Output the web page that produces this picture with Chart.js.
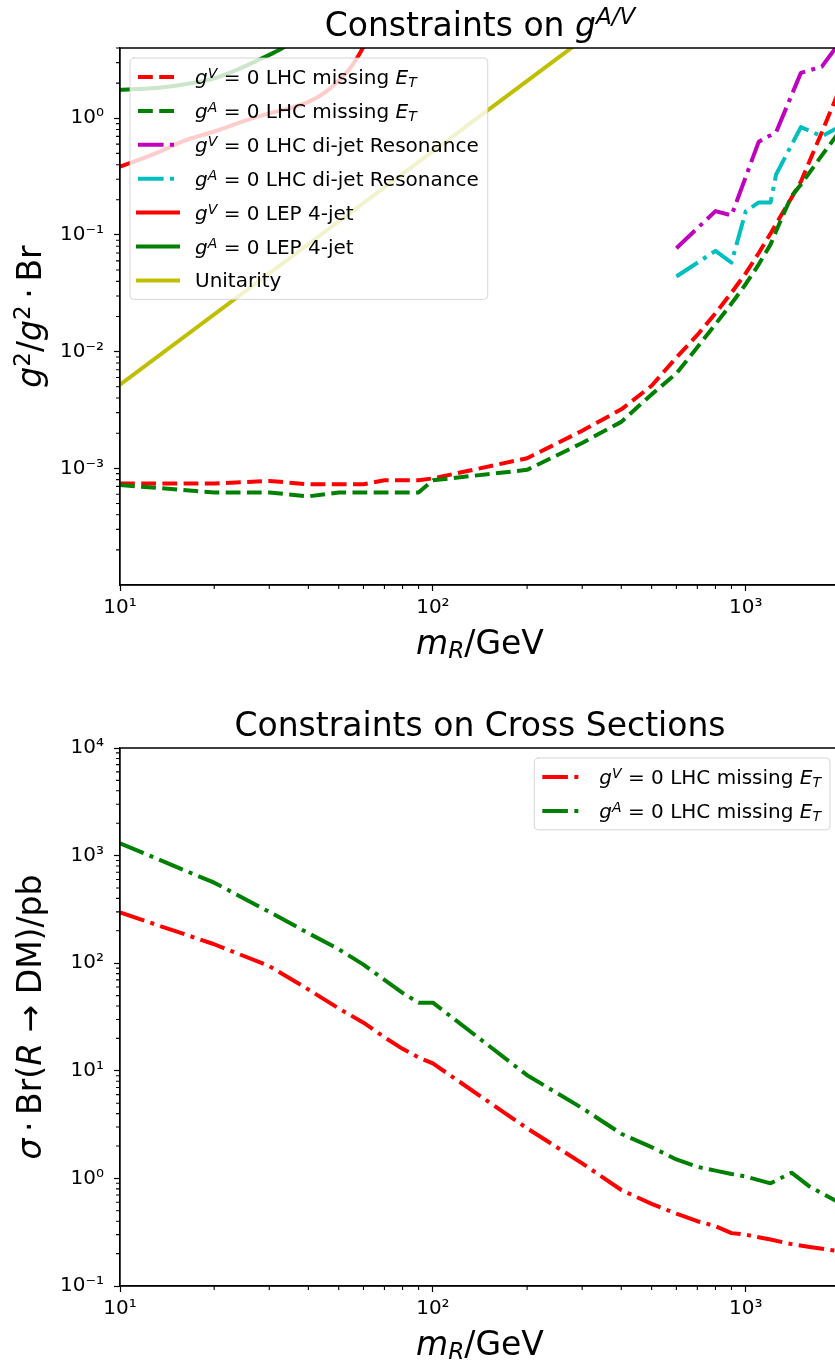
<!DOCTYPE html>
<html><head><meta charset="utf-8">
<script src="https://cdn.jsdelivr.net/npm/chart.js@4.4.0/dist/chart.umd.min.js"></script>
<style>
html,body{margin:0;padding:0;background:#fff;overflow:hidden;width:835px;height:1363px;}
#c1{position:absolute;left:0;top:0;}
#c2{position:absolute;left:0;top:680px;}
</style></head><body>
<canvas id="c1" width="850" height="680"></canvas>
<canvas id="c2" width="850" height="683"></canvas>
<script>
// ---------- axis ticks ----------
const xTickVals = [10, 100, 1000];
const xTickLabels = ['10\u00B9', '10\u00B2', '10\u00B3'];
const yTickValsTop = [1e-3, 1e-2, 1e-1, 1];
const yTickLabelsTop = ['10\u207B\u00B3', '10\u207B\u00B2', '10\u207B\u00B9', '10\u2070'];
const yTickValsBot = [1e-1, 1, 10, 100, 1000, 10000];
const yTickLabelsBot = ['10\u207B\u00B9', '10\u2070', '10\u00B9', '10\u00B2', '10\u00B3', '10\u2074'];
const xMinor = [20,30,40,50,60,70,80,90,200,300,400,500,600,700,800,900,2000];
const yMinorTop = [2e-4,3e-4,4e-4,5e-4,6e-4,7e-4,8e-4,9e-4,2e-3,3e-3,4e-3,5e-3,6e-3,7e-3,8e-3,9e-3,
  0.02,0.03,0.04,0.05,0.06,0.07,0.08,0.09,0.2,0.3,0.4,0.5,0.6,0.7,0.8,0.9,2,3,4];
const yMinorBot = [0.2,0.3,0.4,0.5,0.6,0.7,0.8,0.9,2,3,4,5,6,7,8,9,20,30,40,50,60,70,80,90,
  200,300,400,500,600,700,800,900,2000,3000,4000,5000,6000,7000,8000,9000];

// ---------- top panel data: g^2/g^2 * Br ----------
const massLHC = [10,20,30,40,50,60,70,80,90,100,200,300,400,500,600,700,800,900,1000,1100,1200,1300,1400,1500,1750,2000];
const gV_LHC = [7.4e-4,7.4e-4,7.8e-4,7.3e-4,7.3e-4,7.3e-4,7.9e-4,7.9e-4,7.9e-4,8.2e-4,1.22e-3,2.1e-3,3.2e-3,5.1e-3,8.9e-3,0.0139,0.0213,0.032,0.047,0.07,0.103,0.149,0.208,0.287,0.76,1.8];
const gA_LHC = [7.2e-4,6.2e-4,6.2e-4,5.75e-4,6.2e-4,6.2e-4,6.2e-4,6.2e-4,6.2e-4,7.9e-4,9.7e-4,1.65e-3,2.5e-3,4.3e-3,6.5e-3,0.0109,0.0172,0.0258,0.038,0.056,0.083,0.138,0.215,0.27,0.48,0.78];
const massDijetV = [600,800,900,1100,1250,1500,1750,2000];
const gV_dijet = [0.077,0.16,0.147,0.63,0.76,2.45,2.77,4.5];
const massDijetA = [600,800,900,1000,1100,1200,1250,1500,1750,2000];
const gA_dijet = [0.044,0.073,0.058,0.16,0.19,0.19,0.33,0.84,0.70,0.85];
const massLEP_V = [10,13,16,20,25,30,35,40,45,50,55,60,63];
const gV_LEP = [0.385,0.50,0.64,0.77,0.95,1.10,1.22,1.38,1.65,2.1,2.8,4.1,5.5];
const massLEP_A = [10,13,16,20,24,28,32,36];
const gA_LEP = [1.75,1.82,1.95,2.2,2.65,3.2,3.8,4.6];
const massUnit = [10, 300];
const unitarity = [0.0052, 4.7];

// ---------- bottom panel data: sigma * Br ----------
const massXS = [10,20,30,40,50,60,70,80,90,100,200,300,400,500,600,700,800,900,1000,1200,1400,1600,2000];
const xsV = [296,150,94,57,38,28,20.5,16,13.3,11.7,2.92,1.38,0.78,0.58,0.47,0.40,0.36,0.31,0.30,0.27,0.245,0.23,0.21];
const xsA = [1300,560,300,190,135,97,70,53,43,43,9.1,4.5,2.6,1.95,1.5,1.28,1.18,1.1,1.04,0.9,1.13,0.84,0.59];

// ---------- styles ----------
const RED='#ff0000', GREEN='#008000', MAG='#bf00bf', CYAN='#00bfbf', OLIVE='#bfbf00';
const DASHED=[14.8,6.4], DASHDOT=[25.6,6.4,4,6.4];
const FAM='"DejaVu Sans", sans-serif';

function ds(label, xs, ys, color, dash, order, smooth){
  return {label, data: xs.map((x,i)=>({x, y: ys[i]})), borderColor: color, backgroundColor: color,
    borderWidth: 4, borderDash: dash, pointRadius: 0, pointHoverRadius: 0, fill: false,
    tension: 0, cubicInterpolationMode: smooth ? 'monotone' : 'default', clip: 0,
    borderJoinStyle: 'round', order};
}

// ---------- rich text ----------
function fnt(s, it){ return (it ? 'oblique ' : '') + s + 'px ' + FAM; }
function richWidth(ctx, parts, size){
  let w = 0;
  for (const p of parts){ const f = p[1]; const s = /[\^_]/.test(f) ? size*0.7 : size;
    ctx.font = fnt(s, f.includes('i')); w += ctx.measureText(p[0]).width; }
  return w;
}
function drawRich(ctx, parts, x, y, size, align, supRaise){
  const w = richWidth(ctx, parts, size);
  let cx = align === 'center' ? x - w/2 : (align === 'right' ? x - w : x);
  ctx.textAlign = 'left'; ctx.textBaseline = 'alphabetic'; ctx.fillStyle = '#000';
  for (const p of parts){ const f = p[1]; let s = size, dy = 0;
    if (f.includes('^')) { s = size*0.7; dy = -size*(supRaise || 0.31); }
    else if (f.includes('_')) { s = size*0.7; dy = size*0.13; }
    ctx.font = fnt(s, f.includes('i'));
    ctx.fillText(p[0], cx, y + dy);
    cx += ctx.measureText(p[0]).width; }
}

const GV = [['g','i'],['V','i^']], GA = [['g','i'],['A','i^']];
const ET = [['E','i'],['T','i_']];
const legendTop = [
  {ds:0, parts: GV.concat([[' = 0 LHC missing ','']], ET)},
  {ds:1, parts: GA.concat([[' = 0 LHC missing ','']], ET)},
  {ds:2, parts: GV.concat([[' = 0 LHC di-jet Resonance','']])},
  {ds:3, parts: GA.concat([[' = 0 LHC di-jet Resonance','']])},
  {ds:4, parts: GV.concat([[' = 0 LEP 4-jet','']])},
  {ds:5, parts: GA.concat([[' = 0 LEP 4-jet','']])},
  {ds:6, parts: [['Unitarity','']]}
];
const legendBot = [
  {ds:0, parts: GV.concat([[' = 0 LHC missing ','']], ET)},
  {ds:1, parts: GA.concat([[' = 0 LHC missing ','']], ET)}
];

const decor = {
  id: 'decor',
  afterDatasetsDraw(chart, args, o){
    const ctx = chart.ctx, a = chart.chartArea, xs = chart.scales.x, ys = chart.scales.y;
    ctx.save();
    // minor ticks
    ctx.strokeStyle = '#000'; ctx.lineWidth = 1.1; ctx.setLineDash([]);
    ctx.beginPath();
    for (const v of o.xMinor){ const p = xs.getPixelForValue(v); if (p < a.left - 0.5 || p > a.right + 0.5) continue;
      ctx.moveTo(p, a.bottom); ctx.lineTo(p, a.bottom + 4); }
    for (const v of o.yMinor){ const p = ys.getPixelForValue(v); if (p < a.top - 0.5 || p > a.bottom + 0.5) continue;
      ctx.moveTo(a.left, p); ctx.lineTo(a.left - 4, p); }
    ctx.stroke();
    // spines
    ctx.lineWidth = 1.3; ctx.lineCap = 'square';
    ctx.beginPath();
    ctx.moveTo(a.right, a.top); ctx.lineTo(a.left, a.top); ctx.lineTo(a.left, a.bottom); ctx.lineTo(a.right, a.bottom);
    ctx.stroke();
    // legend
    const fs = 20, rowH = 33.9;
    let maxW = 0; for (const e of o.legend) maxW = Math.max(maxW, richWidth(ctx, e.parts, fs));
    const w = 65 + maxW + 9, h = 38 + (o.legend.length - 1) * rowH;
    const top = a.top + 10, left = o.legendAnchor === 'left' ? a.left + 10 : a.right - 10 - w;
    ctx.beginPath();
    if (ctx.roundRect) ctx.roundRect(left, top, w, h, 4); else ctx.rect(left, top, w, h);
    ctx.fillStyle = 'rgba(255,255,255,0.8)'; ctx.fill();
    ctx.lineWidth = 1; ctx.strokeStyle = 'rgba(204,204,204,0.8)'; ctx.stroke();
    o.legend.forEach((e, i) => {
      const d = chart.data.datasets[e.ds]; const y = top + 19 + i * rowH;
      ctx.save();
      ctx.strokeStyle = d.borderColor; ctx.lineWidth = 4;
      const dash = d.borderDash || [];
      ctx.setLineDash(dash); ctx.lineCap = dash.length ? 'butt' : 'square';
      ctx.beginPath(); ctx.moveTo(left + 8, y); ctx.lineTo(left + 48, y); ctx.stroke();
      ctx.restore();
      drawRich(ctx, e.parts, left + 65, y + 7, fs, 'left', 0.29);
    });
    ctx.restore();
  },
  afterDraw(chart, args, o){
    const ctx = chart.ctx, a = chart.chartArea;
    ctx.save();
    const cx = (a.left + a.right) / 2;
    drawRich(ctx, o.title, cx, a.top - 12.5, 33, 'center', 0.35);
    drawRich(ctx, o.xlabel, cx, a.bottom + 69, 33, 'center');
    ctx.translate(41, (a.top + a.bottom) / 2); ctx.rotate(-Math.PI / 2);
    drawRich(ctx, o.ylabel, 0, 0, 33, 'center', 0.33);
    ctx.restore();
  }
};

function xScale(height){
  return {type:'logarithmic', min:10, max:2000, position:'bottom',
    grid:{drawOnChartArea:false, drawTicks:true, tickLength:6, tickWidth:1.2, tickColor:'#000'},
    border:{display:true, color:'#000', width:1.3},
    ticks:{autoSkip:false, maxRotation:0, minRotation:0, color:'#000', padding:5,
      font:{family:'DejaVu Sans', size:20},
      callback:(v)=>{ const k = xTickVals.indexOf(v); return k >= 0 ? xTickLabels[k] : ''; }},
    afterBuildTicks:(s)=>{ s.ticks = xTickVals.map(v=>({value:v})); },
    afterFit:(s)=>{ s.height = height; }};
}
function yScale(min, max, vals, labels){
  return {type:'logarithmic', min, max, position:'left',
    grid:{drawOnChartArea:false, drawTicks:true, tickLength:6, tickWidth:1.2, tickColor:'#000'},
    border:{display:true, color:'#000', width:1.3},
    ticks:{autoSkip:false, color:'#000', padding:10, font:{family:'DejaVu Sans', size:20},
      callback:(v)=>{ const k = vals.indexOf(v); return k >= 0 ? labels[k] : ''; }},
    afterBuildTicks:(s)=>{ s.ticks = vals.map(v=>({value:v})); },
    afterFit:(s)=>{ s.width = 120; }};
}

const common = {responsive:false, animation:false, devicePixelRatio:1, events:[],
  plugins:{legend:{display:false}, title:{display:false}, tooltip:{enabled:false}}};

new Chart(document.getElementById('c1'), {
  type:'line',
  data:{datasets:[
    ds('g^V = 0 LHC missing E_T', massLHC, gV_LHC, RED, DASHED, 7),
    ds('g^A = 0 LHC missing E_T', massLHC, gA_LHC, GREEN, DASHED, 6),
    ds('g^V = 0 LHC di-jet Resonance', massDijetV, gV_dijet, MAG, DASHDOT, 5),
    ds('g^A = 0 LHC di-jet Resonance', massDijetA, gA_dijet, CYAN, DASHDOT, 4),
    ds('g^V = 0 LEP 4-jet', massLEP_V, gV_LEP, RED, [], 3, true),
    ds('g^A = 0 LEP 4-jet', massLEP_A, gA_LEP, GREEN, [], 2, true),
    ds('Unitarity', massUnit, unitarity, OLIVE, [], 1)
  ]},
  options:Object.assign({}, common, {
    layout:{padding:{left:0, right:10, top:48, bottom:0}},
    scales:{x:xScale(95), y:yScale(1e-4, 4, yTickValsTop, yTickLabelsTop)},
    plugins:Object.assign({}, common.plugins, {decor:{
      xMinor, yMinor: yMinorTop, legend: legendTop, legendAnchor:'left',
      title: [['Constraints on ',''],['g','i'],['A/V','i^']],
      xlabel: [['m','i'],['R','i_'],['/GeV','']],
      ylabel: [['g','i'],['2','^'],['/',''],['g','i'],['2','^'],['\u2009\u00B7\u2009',''],['Br','']]
    }})
  }),
  plugins:[decor]
});

new Chart(document.getElementById('c2'), {
  type:'line',
  data:{datasets:[
    ds('g^V = 0 LHC missing E_T', massXS, xsV, RED, DASHDOT, 2),
    ds('g^A = 0 LHC missing E_T', massXS, xsA, GREEN, DASHDOT, 1)
  ]},
  options:Object.assign({}, common, {
    layout:{padding:{left:0, right:10, top:68, bottom:0}},
    scales:{x:xScale(77), y:yScale(0.1, 10000, yTickValsBot, yTickLabelsBot)},
    plugins:Object.assign({}, common.plugins, {decor:{
      xMinor, yMinor: yMinorBot, legend: legendBot, legendAnchor:'right',
      title: [['Constraints on Cross Sections','']],
      xlabel: [['m','i'],['R','i_'],['/GeV','']],
      ylabel: [['\u03C3','i'],['\u2009\u00B7\u2009',''],['Br(',''],['R','i'],[' \u2192 ',''],['DM)/pb','']]
    }})
  }),
  plugins:[decor]
});
</script>
</body></html>
